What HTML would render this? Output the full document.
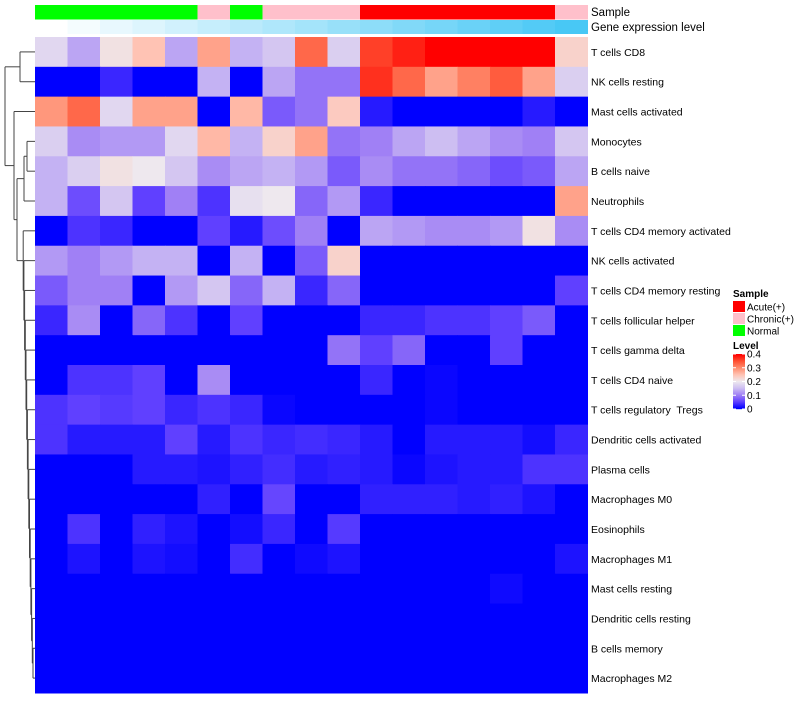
<!DOCTYPE html>
<html><head><meta charset="utf-8"><style>
body{margin:0;background:#fff;font-family:"Liberation Sans",sans-serif;}
svg text{font-family:"Liberation Sans",sans-serif;white-space:pre;}
</style></head><body>
<svg id="chart" width="800" height="700" xmlns="http://www.w3.org/2000/svg">
<g id="dendro" stroke="#444" stroke-width="1" fill="none"></g>
<g id="annot"></g>
<g id="cells"></g>
<g id="rowlabels" font-size="10.5" fill="#000"></g>
<text x="591" y="16" font-size="11.5">Sample</text>
<text x="591" y="31" font-size="11.5">Gene expression level</text>
<g id="legend" font-size="10"></g>
</svg>
<script>
const rowNames = ["T cells CD8","NK cells resting","Mast cells activated","Monocytes","B cells naive","Neutrophils","T cells CD4 memory activated","NK cells activated","T cells CD4 memory resting","T cells follicular helper","T cells gamma delta","T cells CD4 naive","T cells regulatory  Tregs","Dendritic cells activated","Plasma cells","Macrophages M0","Eosinophils","Macrophages M1","Mast cells resting","Dendritic cells resting","B cells memory","Macrophages M2"];
const sampleGroups = ["Normal","Normal","Normal","Normal","Normal","Chronic(+)","Normal","Chronic(+)","Chronic(+)","Chronic(+)","Acute(+)","Acute(+)","Acute(+)","Acute(+)","Acute(+)","Acute(+)","Chronic(+)"];
const geneLevel = [0,1,2,3,4,5,6,7,8,9,10,11,12,13,14,15,16];
const values = [
[0.18,0.13,0.21,0.25,0.13,0.28,0.14,0.16,0.33,0.17,0.36,0.38,0.4,0.4,0.4,0.4,0.23],
[0,0,0.03,0,0,0.14,0,0.13,0.09,0.09,0.37,0.33,0.28,0.31,0.34,0.28,0.17],
[0.29,0.33,0.18,0.28,0.28,0,0.26,0.07,0.09,0.24,0.02,0,0,0,0,0.02,0],
[0.17,0.11,0.12,0.12,0.18,0.26,0.14,0.23,0.28,0.09,0.1,0.13,0.15,0.13,0.11,0.1,0.16],
[0.14,0.17,0.21,0.2,0.16,0.11,0.13,0.14,0.12,0.07,0.11,0.09,0.09,0.08,0.06,0.07,0.13],
[0.14,0.06,0.16,0.05,0.1,0.04,0.19,0.2,0.08,0.12,0.03,0,0,0,0,0,0.28],
[0,0.04,0.03,0,0,0.05,0.02,0.06,0.1,0,0.13,0.12,0.11,0.11,0.12,0.21,0.11],
[0.12,0.1,0.12,0.14,0.14,0,0.14,0,0.07,0.23,0,0,0,0,0,0,0],
[0.07,0.1,0.1,0,0.12,0.16,0.08,0.14,0.03,0.08,0,0,0,0,0,0,0.05],
[0.03,0.11,0,0.08,0.04,0,0.05,0,0,0,0.03,0.03,0.04,0.04,0.05,0.07,0],
[0,0,0,0,0,0,0,0,0,0.09,0.05,0.08,0,0,0.05,0,0],
[0,0.04,0.04,0.05,0,0.11,0,0,0,0,0.03,0,0.005,0,0,0,0],
[0.04,0.05,0.045,0.05,0.03,0.04,0.03,0.005,0,0,0,0,0.005,0,0,0,0],
[0.04,0.02,0.02,0.02,0.05,0.02,0.04,0.03,0.035,0.03,0.02,0,0.02,0.02,0.02,0.01,0.03],
[0,0,0,0.02,0.02,0.015,0.025,0.035,0.02,0.025,0.02,0.005,0.015,0.02,0.02,0.04,0.04],
[0,0,0,0,0,0.025,0,0.055,0,0,0.025,0.025,0.025,0.02,0.025,0.015,0],
[0,0.04,0,0.025,0.015,0,0.01,0.03,0,0.045,0,0,0,0,0,0,0],
[0,0.015,0,0.015,0.01,0,0.035,0,0.008,0.015,0,0,0,0,0,0,0.015],
[0,0,0,0,0,0,0,0,0,0,0,0,0,0,0.008,0,0],
[0,0,0,0,0,0,0,0,0,0,0,0,0,0,0,0,0],
[0,0,0,0,0,0,0,0,0,0,0,0,0,0,0,0,0],
[0,0,0,0,0,0,0,0,0,0,0,0,0,0,0,0,0]
];
const legendTicks = [0,0.1,0.2,0.3,0.4];
const sampleLevels = ["Acute(+)","Chronic(+)","Normal"];

const NS="http://www.w3.org/2000/svg";
const X0=35, X1=587.5, Y0=37, Y1=693;
const nC=values[0].length, nR=values.length;
const cw=(X1-X0)/nC, rh=(Y1-Y0)/nR;
const xPos=c=>X0+c*cw, yPos=r=>Y0+r*rh;
const sampleColor={"Acute(+)":"#FF0000","Chronic(+)":"#FFC0CB","Normal":"#00FF00"};
const stops=[[0,[0,0,255]],[0.05,[96,64,255]],[0.1,[160,128,245]],[0.15,[205,190,242]],[0.2,[238,232,238]],[0.25,[255,195,180]],[0.3,[255,140,110]],[0.35,[255,80,50]],[0.4,[255,0,0]]];
function col(v){v=Math.max(0,Math.min(0.4,v));for(let i=1;i<stops.length;i++){if(v<=stops[i][0]){const a=stops[i-1],b=stops[i],t=(v-a[0])/(b[0]-a[0]);const c=a[1].map((x,k)=>Math.round(x+(b[1][k]-x)*t));return `rgb(${c})`;}}return "rgb(255,0,0)";}
function mk(tag,attrs,parent){const e=document.createElementNS(NS,tag);for(const k in attrs)e.setAttribute(k,attrs[k]);parent.appendChild(e);return e;}
const cells=document.getElementById('cells');
values.forEach((row,r)=>row.forEach((v,c)=>{
 const e=mk('rect',{x:xPos(c),y:yPos(r),width:cw+0.5,height:rh+0.5,fill:col(v)},cells);
 
 
}));
const annot=document.getElementById('annot');
const gMax=Math.max(...geneLevel);
sampleGroups.forEach((s,c)=>{
 const e=mk('rect',{x:xPos(c),y:5,width:cw+0.5,height:14.5,fill:sampleColor[s]},annot);
 
 
});
geneLevel.forEach((g,c)=>{
 const t=g/gMax;
 const rr=Math.round(255+(72-255)*t),gg=Math.round(255+(200-255)*t),bb=Math.round(255+(245-255)*t);
 const e=mk('rect',{x:xPos(c),y:20,width:cw+0.5,height:14,fill:`rgb(${rr},${gg},${bb})`},annot);
 
 
});
const rl=document.getElementById('rowlabels');
rowNames.forEach((n,r)=>{
 const e=mk('text',{x:591,y:yPos(r)+rh/2+4},rl);e.textContent=n;
 
 
});
const d=document.getElementById('dendro');
const yc=r=>yPos(r)+rh/2;
function seg(x1,y1,x2,y2){mk('line',{x1,y1,x2,y2},d);}
function join(xa,ya,xb,yb,xn){seg(xa,ya,xn,ya);seg(xb,yb,xn,yb);seg(xn,ya,xn,yb);return [xn,(ya+yb)/2];}
let a=join(35,yc(0),35,yc(1),20);
let m45=join(35,yc(3),35,yc(4),27);
let m456=join(m45[0],m45[1],35,yc(5),24);
let chain=[35,yc(nR-1)];
for(let r=nR-2;r>=6;r--){const xn=33-(nR-2-r)*0.7;chain=join(35,yc(r),chain[0],chain[1],xn);}
let m4=join(m456[0],m456[1],chain[0],chain[1],17);
let m3=join(35,yc(2),m4[0],m4[1],14);
join(a[0],a[1],m3[0],m3[1],5);
const lg=document.getElementById('legend');
let t=mk('text',{x:733,y:297,'font-weight':'bold'},lg);t.textContent='Sample';

sampleLevels.forEach((s,i)=>{
 const y=301+i*12;
 const r=mk('rect',{x:733,y:y,width:12,height:11,fill:sampleColor[s]},lg);
 
 const tx=mk('text',{x:747,y:y+9.5},lg);tx.textContent=s;
 
});
t=mk('text',{x:733,y:349,'font-weight':'bold'},lg);t.textContent='Level';

const cbTop=354,cbBot=409;
for(let i=0;i<55;i++){const v=0.4*(1-i/54);const r=mk('rect',{x:733,y:cbTop+i,width:12,height:1.2,fill:col(v)},lg);}
legendTicks.forEach(v=>{
 const y=cbBot-(v/0.4)*(cbBot-cbTop);
 mk('line',{x1:733,y1:y,x2:736,y2:y,stroke:'#fff'},lg);
 mk('line',{x1:742,y1:y,x2:745,y2:y,stroke:'#fff'},lg);
 const tx=mk('text',{x:747,y:y+3.5},lg);tx.textContent=String(v);
 
});
</script>
</body></html>
